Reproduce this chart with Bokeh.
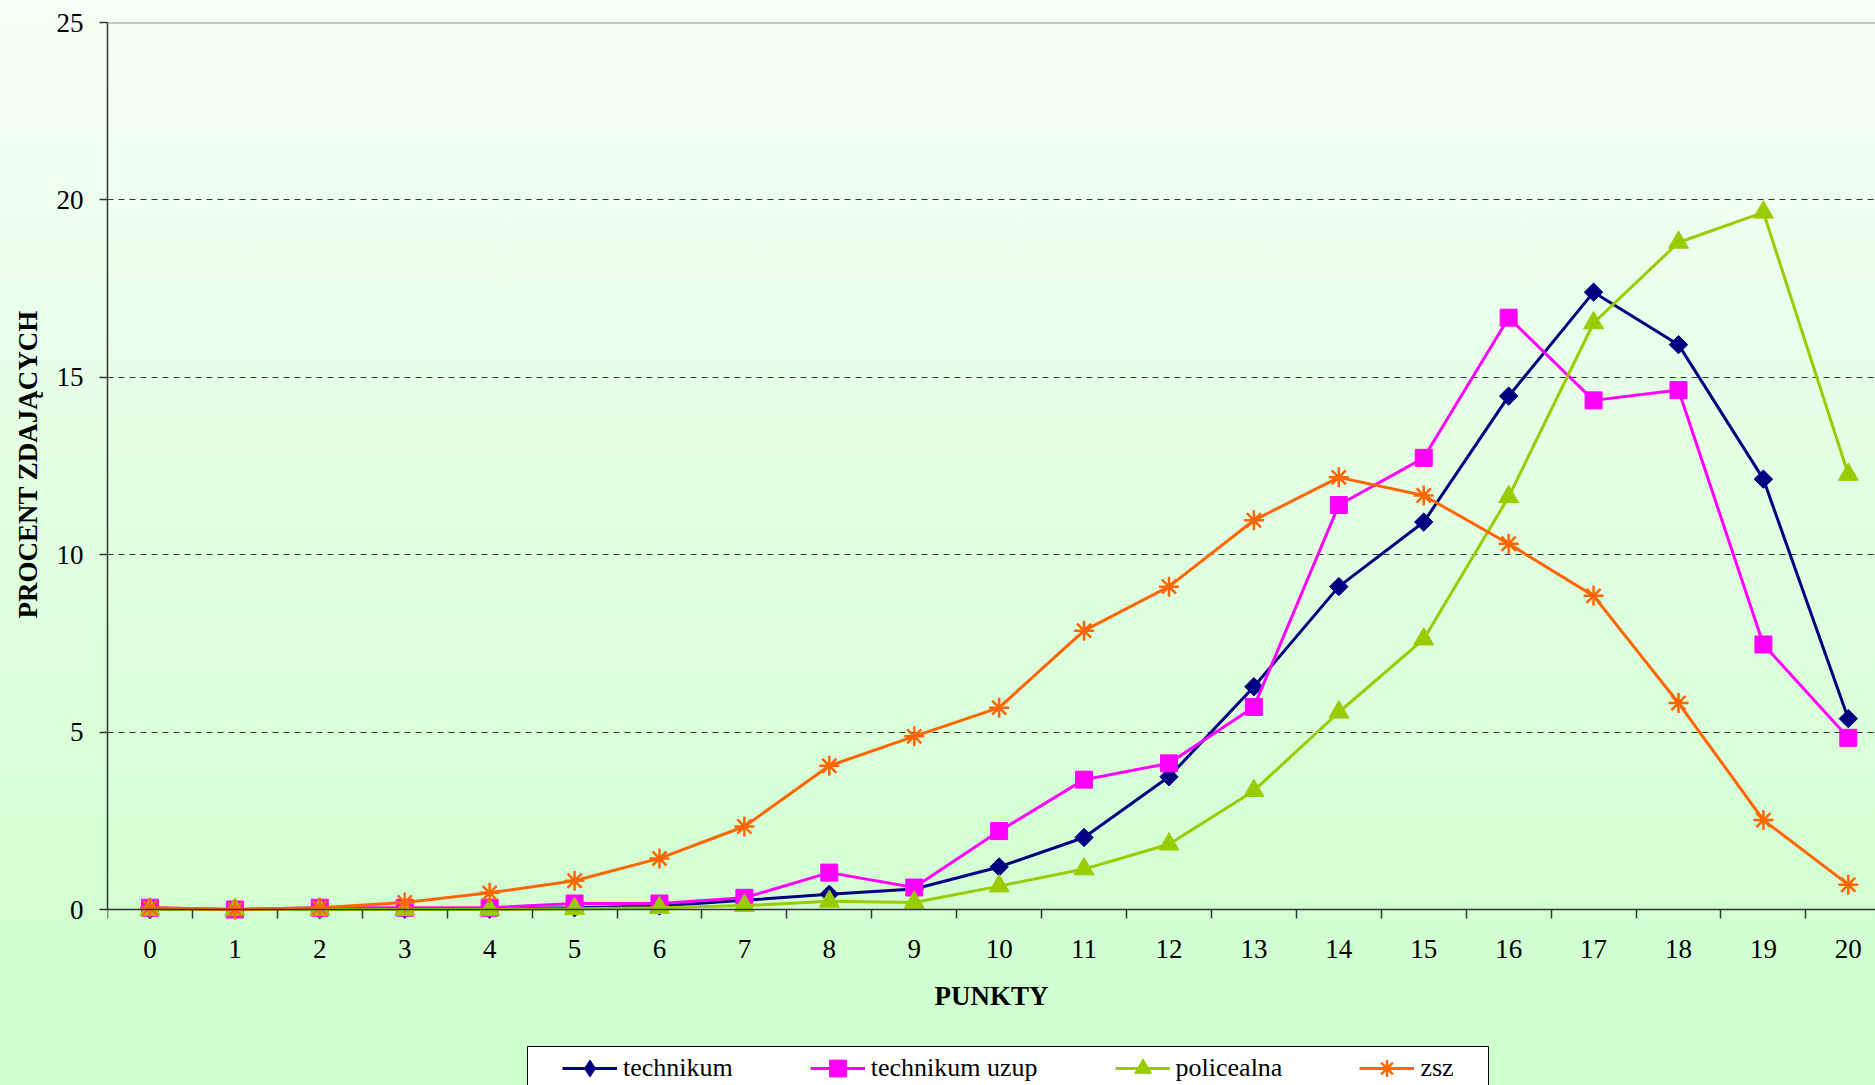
from bokeh.plotting import figure
from bokeh.models import (FixedTicker, Legend, LegendItem, Span, Range1d, BoxAnnotation,
                          ColumnDataSource, GlobalInlineStyleSheet, Title)
from bokeh.embed import file_html
from bokeh.resources import INLINE
import numpy as np

# ---- data ----
punkty = [0, 1, 2, 3, 4, 5, 6, 7, 8, 9, 10, 11, 12, 13, 14, 15, 16, 17, 18, 19, 20]
technikum = [0.0, 0.0, 0.0, 0.01, 0.01, 0.05, 0.1, 0.26, 0.43, 0.58, 1.2, 2.03,
             3.74, 6.28, 9.1, 10.92, 14.47, 17.4, 15.92, 12.13, 5.38]
technikum_uzup = [0.05, 0.0, 0.05, 0.05, 0.05, 0.17, 0.17, 0.33, 1.04, 0.62, 2.21, 3.66,
                  4.12, 5.71, 11.4, 12.73, 16.68, 14.35, 14.64, 7.47, 4.84]
policealna = [0.0, 0.0, 0.0, 0.0, 0.0, 0.02, 0.05, 0.11, 0.23, 0.2, 0.66, 1.14,
              1.84, 3.35, 5.56, 7.62, 11.63, 16.53, 18.8, 19.65, 12.26]
zsz = [0.05, 0.0, 0.05, 0.2, 0.47, 0.81, 1.44, 2.34, 4.05, 4.88, 5.69, 7.86,
       9.1, 10.97, 12.18, 11.67, 10.31, 8.84, 5.82, 2.52, 0.7]
series_names = ["technikum", "technikum uzup", "policealna", "zsz"]
y_ticks = [0, 5, 10, 15, 20, 25]
x_title = "PUNKTY"
y_title = "PROCENT ZDAJĄCYCH"

FONT = "Liberation Serif"

# frame reaches the bottom of the page; y = 0 sits where the reference axis is
p = figure(width=1875, height=1085, output_backend="svg", toolbar_location=None,
           title=None,
           x_range=Range1d(-0.5, 20.32), y_range=Range1d(-4.96, 25),
           min_border_left=107, min_border_right=0, min_border_top=22,
           min_border_bottom=0)
p.border_fill_color = None
p.background_fill_color = None
p.outline_line_color = None
p.stylesheets = [GlobalInlineStyleSheet(css=(
    "html { background: linear-gradient(to bottom, #f5fff5 0%, #ccffcc 100%) fixed; "
    "min-height: 100%; }"))]

# x axis drawn at y = 0: labels at integer points, tick marks between categories
xa = p.xaxis[0]
xa.fixed_location = 0
xa.bounds = (-0.5, 20.5)
xa.ticker = FixedTicker(ticks=punkty, minor_ticks=[v - 0.5 for v in punkty] + [20.5])
xa.major_tick_line_color = None
xa.major_tick_out = 9
xa.major_tick_in = 0
xa.minor_tick_line_color = "#333333"
xa.minor_tick_line_width = 1.5
xa.minor_tick_out = 9
xa.minor_tick_in = 0
xa.axis_line_color = "#333333"
xa.axis_line_width = 1.5
xa.major_label_text_font = FONT
xa.major_label_text_font_size = "27px"
xa.major_label_text_color = "black"
xa.major_label_standoff = 21
xa.axis_label = x_title
xa.axis_label_text_font = FONT
xa.axis_label_text_font_style = "bold"
xa.axis_label_text_font_size = "27px"
xa.axis_label_text_color = "black"
xa.axis_label_standoff = 20

ya = p.yaxis[0]
ya.bounds = (0, 25)
ya.ticker = FixedTicker(ticks=y_ticks, minor_ticks=[])
ya.major_tick_out = 8
ya.major_tick_in = 0
ya.major_tick_line_color = "#333333"
ya.major_tick_line_width = 1.5
ya.minor_tick_line_color = None
ya.axis_line_color = "#333333"
ya.axis_line_width = 1.5
ya.major_label_text_font = FONT
ya.major_label_text_font_size = "27px"
ya.major_label_text_color = "black"
ya.major_label_standoff = 16

# y title centred on the 0..25 part of the axis (not on the whole frame)
p.add_layout(Title(text=y_title, align="left", offset=467, standoff=21,
                   vertical_align="bottom",
                   text_font=FONT, text_font_size="27px", text_font_style="bold",
                   text_color="black"), "left")

p.xgrid.visible = False
p.ygrid.grid_line_color = "#333333"
p.ygrid.grid_line_dash = "6 5"
p.ygrid.grid_line_width = 1

p.add_layout(Span(location=25, dimension="width", line_color="#8c8c8c", line_width=2))

styles = [
    dict(color="#000080", marker="square", size=13, angle=np.pi / 4, lw=1, leg="diamond"),
    dict(color="#FF00FF", marker="square", size=17, angle=0.0, lw=1, leg=None),
    dict(color="#99CC00", marker="triangle", size=20, angle=0.0, lw=1, leg=None),
    dict(color="#FF6600", marker="asterisk", size=20, angle=0.0, lw=2.5, leg=None),
]
values = [technikum, technikum_uzup, policealna, zsz]

items = []
for name, vals, st in zip(series_names, values, styles):
    src = ColumnDataSource(dict(x=punkty, y=vals))
    ln = p.line("x", "y", source=src, line_color=st["color"], line_width=3)
    mk = p.scatter("x", "y", source=src, marker=st["marker"], size=st["size"],
                   angle=st["angle"], fill_color=st["color"], line_color=st["color"],
                   line_width=st["lw"])
    leg_r = mk
    if st["leg"] is not None:
        # legend swatch shape (the rotated square is not rotated in legend swatches)
        leg_r = p.scatter("x", "y", source=src, marker=st["leg"], size=st["size"],
                          fill_color=st["color"], line_color=st["color"], visible=False)
    items.append(LegendItem(label=name, renderers=[ln, leg_r]))

# white legend box (screen units: from frame left / frame bottom)
p.add_layout(BoxAnnotation(left=420, right=1381, top=39, bottom=-20,
                           left_units="screen", right_units="screen",
                           top_units="screen", bottom_units="screen",
                           fill_color="white", fill_alpha=1.0,
                           line_color="black", line_width=1, line_alpha=1.0))

legend = Legend(items=items, orientation="horizontal", location=(455, -4),
                label_text_font=FONT, label_text_font_size="26px",
                label_text_color="black",
                glyph_width=55, glyph_height=42, label_height=24,
                label_standoff=6, spacing=77, padding=0, margin=0,
                border_line_color=None, background_fill_alpha=0.0)
p.add_layout(legend)

open("out.html", "w").write(file_html(p, INLINE))
